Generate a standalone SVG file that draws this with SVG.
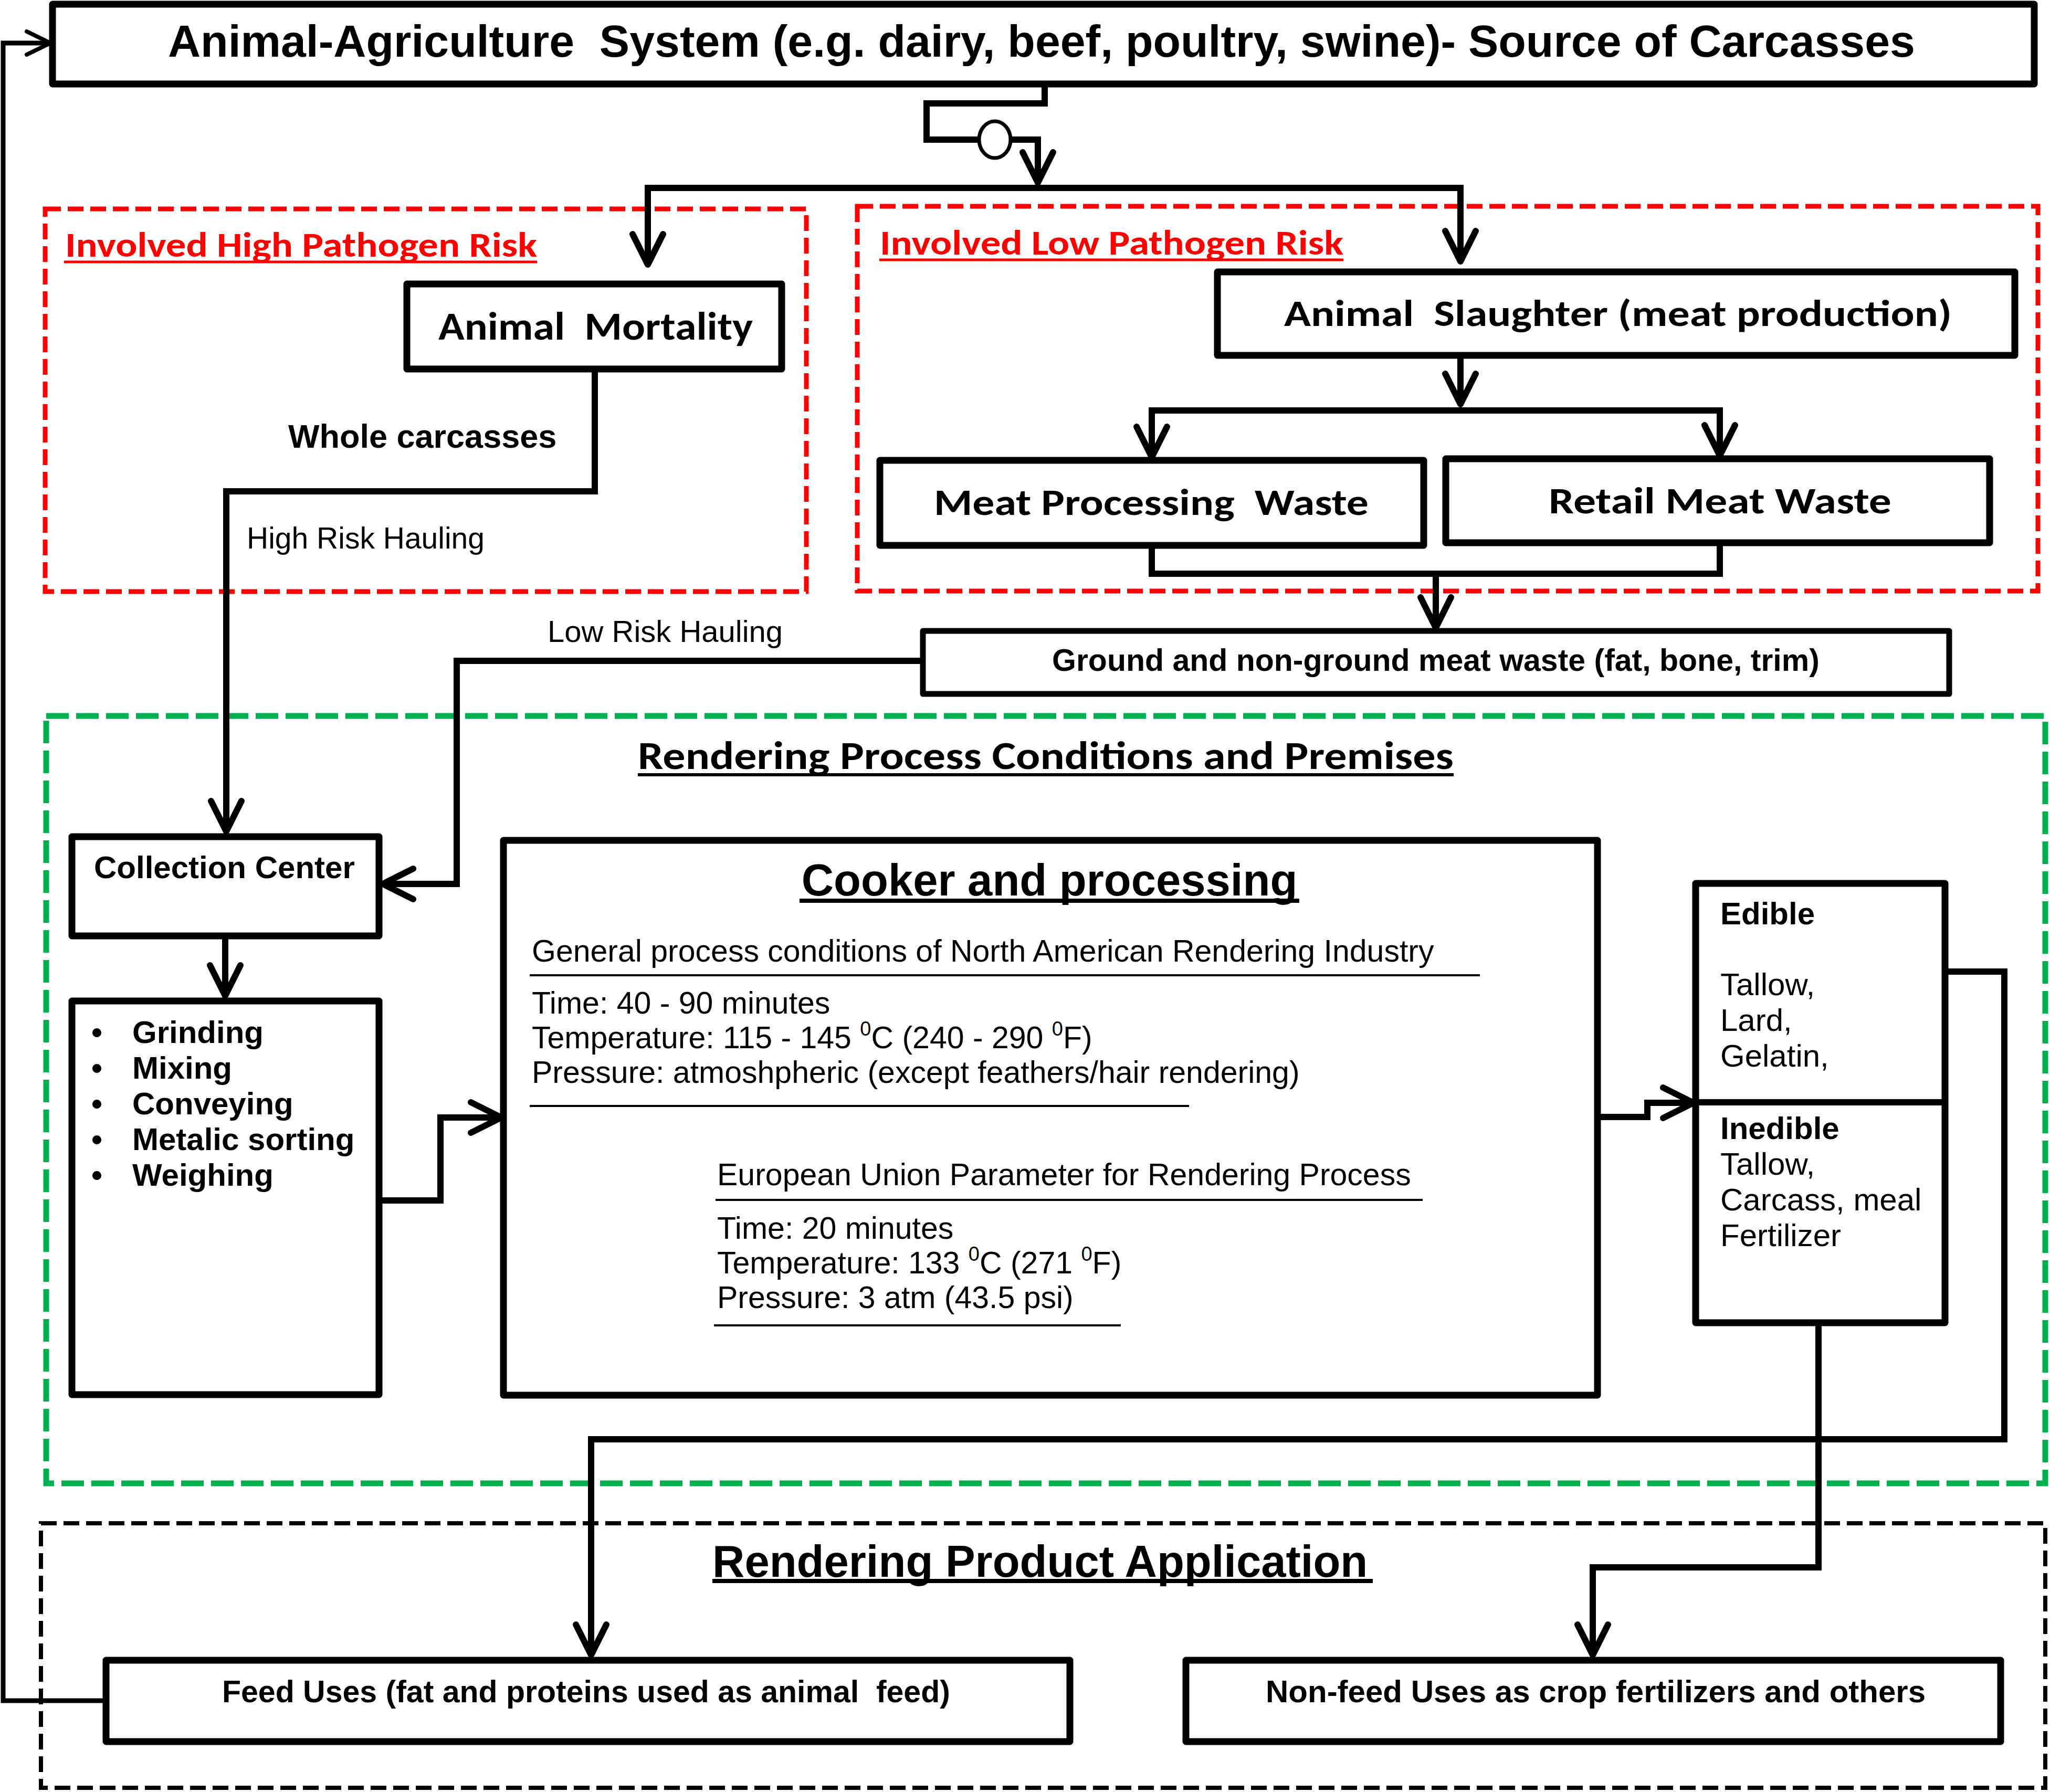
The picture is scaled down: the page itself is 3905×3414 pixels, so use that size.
<svg xmlns="http://www.w3.org/2000/svg" width="3905" height="3414" viewBox="0 0 3905 3414">
<style>
.box{fill:#fff;stroke:#000;stroke-width:13;stroke-linejoin:round}
.conn{fill:none;stroke:#000;stroke-width:12;stroke-linejoin:miter}
.thin{fill:none;stroke:#000;stroke-width:9}
.ar{font-family:"Liberation Sans",Arial,sans-serif;fill:#000}
.b{font-weight:bold}
.cal{font-family:Carlito,Lato,"Liberation Sans",sans-serif;font-weight:bold;fill:#000}
.rd{fill:none;stroke:#FF0000;stroke-width:9;stroke-dasharray:30 13}
.gr{fill:none;stroke:#00B050;stroke-width:11;stroke-dasharray:43 14}
.bk{fill:none;stroke:#000;stroke-width:8;stroke-dasharray:30 13}
.ul{stroke:#000;stroke-width:4}
.f60{font-size:60px}
.f59{font-size:59px}
</style>
<defs>
<marker id="ah" viewBox="-70 -40 80 80" refX="0" refY="0" markerWidth="80" markerHeight="80" markerUnits="userSpaceOnUse" orient="auto" overflow="visible">
<path d="M-58,-29 L0,0 L-58,29" fill="none" stroke="#000" stroke-width="12" stroke-linecap="round" stroke-linejoin="round"/>
</marker>
<marker id="ahs" viewBox="-70 -40 80 80" refX="0" refY="0" markerWidth="80" markerHeight="80" markerUnits="userSpaceOnUse" orient="auto" overflow="visible">
<path d="M-45,-22 L0,0 L-45,22" fill="none" stroke="#000" stroke-width="8" stroke-linecap="round" stroke-linejoin="round"/>
</marker>
</defs>
<rect width="3905" height="3414" fill="#fff"/>

<g id="frames">
<rect class="rd" x="86" y="398" width="1450" height="729"/>
<rect class="rd" x="1633" y="393" width="2249" height="733"/>
<rect class="gr" x="88" y="1364" width="3808" height="1462"/>
<rect class="bk" x="78" y="2902" width="3818" height="504"/>
</g>

<g id="connectors">
<path class="conn" d="M1990,160 V197 H1765 V266 H1977 V348" marker-end="url(#ah)"/>
<path class="conn" d="M1228,358 H2788"/>
<path class="conn" d="M1234,358 V504" marker-end="url(#ah)"/>
<path class="conn" d="M2782,358 V498" marker-end="url(#ah)"/>
<path class="conn" d="M1133,703 V936 H431 V1584" marker-end="url(#ah)"/>
<path class="conn" d="M2782,677 V770" marker-end="url(#ah)"/>
<path class="conn" d="M2188,782 H3282"/>
<path class="conn" d="M2194,782 V871" marker-end="url(#ah)"/>
<path class="conn" d="M3276,782 V868" marker-end="url(#ah)"/>
<path class="conn" d="M2194,1039 V1093 H3276 V1034"/>
<path class="conn" d="M2735,1093 V1196" marker-end="url(#ah)"/>
<path class="conn" d="M1758,1259 H870 V1684 H729" marker-end="url(#ah)"/>
<path class="conn" d="M429,1783 V1897" marker-end="url(#ah)"/>
<path class="conn" d="M722,2287 H839 V2129 H955" marker-end="url(#ah)"/>
<path class="conn" d="M3043,2128 H3138 V2101 H3226" marker-end="url(#ah)"/>
<path class="conn" d="M3705,1851 H3818 V2742 H1126 V3153" marker-end="url(#ah)"/>
<path class="conn" d="M3464,2520 V2986 H3034 V3153" marker-end="url(#ah)"/>
<path class="thin" d="M202,3240 H6 V82 H96" marker-end="url(#ahs)"/>
<ellipse cx="1895" cy="266" rx="30" ry="35" fill="#fff" stroke="#000" stroke-width="7"/>
</g>

<g id="source">
<rect class="box" x="100" y="8" width="3775" height="152"/>
<text class="ar b" x="320" y="108" font-size="86" xml:space="preserve">Animal-Agriculture  System (e.g. dairy, beef, poultry, swine)- Source of Carcasses</text>
</g>

<g id="high-risk-label">
<text class="cal" x="124" y="489" font-size="66" style="fill:#FF0000" textLength="899" lengthAdjust="spacingAndGlyphs">Involved High Pathogen Risk</text>
<line x1="122" y1="499" x2="1023" y2="499" stroke="#FF0000" stroke-width="5"/>
</g>
<g id="low-risk-label">
<text class="cal" x="1676" y="485" font-size="66" style="fill:#FF0000" textLength="883" lengthAdjust="spacingAndGlyphs">Involved Low Pathogen Risk</text>
<line x1="1675" y1="495" x2="2559" y2="495" stroke="#FF0000" stroke-width="5"/>
</g>

<g id="mortality">
<rect class="box" x="775" y="541" width="714" height="162"/>
<text class="cal" x="835" y="647" font-size="74" xml:space="preserve" textLength="599" lengthAdjust="spacingAndGlyphs">Animal  Mortality</text>
</g>
<text class="ar b" x="549" y="853" font-size="63">Whole carcasses</text>
<text class="ar" x="470" y="1045" font-size="57">High Risk Hauling</text>

<g id="slaughter">
<rect class="box" x="2319" y="518" width="1519" height="159"/>
<text class="cal" x="2446" y="621" font-size="71" xml:space="preserve" textLength="1272" lengthAdjust="spacingAndGlyphs">Animal  Slaughter (meat production)</text>
</g>
<g id="meat-processing-waste">
<rect class="box" x="1676" y="877" width="1036" height="162"/>
<text class="cal" x="1779" y="981" font-size="71" xml:space="preserve" textLength="828" lengthAdjust="spacingAndGlyphs">Meat Processing  Waste</text>
</g>
<g id="retail-meat-waste">
<rect class="box" x="2754" y="874" width="1036" height="160"/>
<text class="cal" x="2950" y="978" font-size="71" textLength="653" lengthAdjust="spacingAndGlyphs">Retail Meat Waste</text>
</g>
<g id="ground-waste">
<rect class="box" x="1758" y="1202" width="1955" height="120" style="stroke-width:11"/>
<text class="ar b f59" x="2004" y="1278">Ground and non-ground meat waste (fat, bone, trim)</text>
</g>
<text class="ar" x="1043" y="1223" font-size="58">Low Risk Hauling</text>

<g id="rendering-title">
<text class="cal" x="1215" y="1465" font-size="74" xml:space="preserve" textLength="1554" lengthAdjust="spacingAndGlyphs">Rendering Process Conditions and Premises</text>
<line x1="1215" y1="1476" x2="2769" y2="1476" stroke="#000" stroke-width="6"/>
</g>

<g id="collection-center">
<rect class="box" x="137" y="1594" width="585" height="189"/>
<text class="ar b f60" x="179" y="1673">Collection Center</text>
</g>

<g id="pre-processing">
<rect class="box" x="137" y="1907" width="585" height="750"/>
<g class="ar b f60">
<text x="174" y="1987">•</text><text x="252" y="1987">Grinding</text>
<text x="174" y="2055">•</text><text x="252" y="2055">Mixing</text>
<text x="174" y="2123">•</text><text x="252" y="2123">Conveying</text>
<text x="174" y="2191">•</text><text x="252" y="2191">Metalic sorting</text>
<text x="174" y="2259">•</text><text x="252" y="2259">Weighing</text>
</g>
</g>

<g id="cooker">
<rect class="box" x="959" y="1601" width="2084" height="1057"/>
<text class="ar b" x="1999" y="1706" font-size="85" text-anchor="middle">Cooker and processing</text>
<line x1="1523" y1="1716" x2="2475" y2="1716" stroke="#000" stroke-width="8"/>
<g class="ar f59">
<text x="1013" y="1832">General process conditions of North American Rendering Industry</text>
<text x="1013" y="1931">Time: 40 - 90 minutes</text>
<text x="1013" y="1997">Temperature: 115 - 145 <tspan dy="-24" font-size="38">0</tspan><tspan dy="24">C (240 - 290 </tspan><tspan dy="-24" font-size="38">0</tspan><tspan dy="24">F)</tspan></text>
<text x="1013" y="2063">Pressure: atmoshpheric (except feathers/hair rendering)</text>
<text x="1366" y="2258">European Union Parameter for Rendering Process</text>
<text x="1366" y="2360">Time: 20 minutes</text>
<text x="1366" y="2426">Temperature: 133 <tspan dy="-24" font-size="38">0</tspan><tspan dy="24">C (271 </tspan><tspan dy="-24" font-size="38">0</tspan><tspan dy="24">F)</tspan></text>
<text x="1366" y="2492">Pressure: 3 atm (43.5 psi)</text>
</g>
<line class="ul" x1="1009" y1="1858" x2="2819" y2="1858"/>
<line class="ul" x1="1009" y1="2107" x2="2265" y2="2107"/>
<line class="ul" x1="1363" y1="2286" x2="2710" y2="2286"/>
<line class="ul" x1="1360" y1="2525" x2="2135" y2="2525"/>
</g>

<g id="products">
<rect class="box" x="3230" y="1683" width="475" height="837"/>
<line x1="3230" y1="2100" x2="3705" y2="2100" stroke="#000" stroke-width="12"/>
<g class="ar f60">
<text class="b" x="3277" y="1761">Edible</text>
<text x="3277" y="1896">Tallow,</text>
<text x="3277" y="1964">Lard,</text>
<text x="3277" y="2032">Gelatin,</text>
<text class="b" x="3277" y="2170">Inedible</text>
<text x="3277" y="2238">Tallow,</text>
<text x="3277" y="2306">Carcass, meal</text>
<text x="3277" y="2374">Fertilizer</text>
</g>
</g>

<g id="application-title">
<text class="ar b" x="1357" y="3004" font-size="85">Rendering Product Application</text>
<line x1="1357" y1="3012" x2="2615" y2="3012" stroke="#000" stroke-width="8"/>
</g>

<g id="feed-uses">
<rect class="box" x="202" y="3163" width="1836" height="155"/>
<text class="ar b" x="423" y="3243" font-size="59" xml:space="preserve">Feed Uses (fat and proteins used as animal  feed)</text>
</g>
<g id="non-feed-uses">
<rect class="box" x="2259" y="3163" width="1552" height="155"/>
<text class="ar b f60" x="2411" y="3243">Non-feed Uses as crop fertilizers and others</text>
</g>
</svg>
